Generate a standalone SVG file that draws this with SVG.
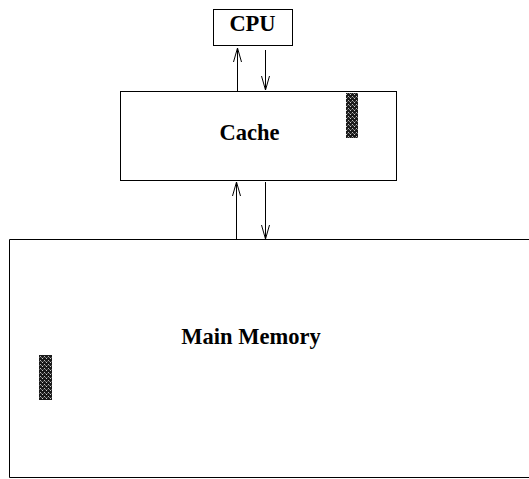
<svg xmlns="http://www.w3.org/2000/svg" width="529" height="479" viewBox="0 0 529 479">
<defs>
<style>
.box{fill:#fff;stroke:#000;stroke-width:1}
.lbl{font-family:"Liberation Serif","Times New Roman",serif;font-weight:bold;font-size:22.5px;text-anchor:middle;fill:#000}
.con{stroke:#000;stroke-width:1;fill:none}
.head{stroke:#000;stroke-width:1;fill:none}
</style>
<pattern id="chk" width="4" height="4" patternUnits="userSpaceOnUse">
<rect width="4" height="4" fill="#1a1a1a"/>
<rect x="0" y="0" width="1" height="1" fill="#bbb"/>
<rect x="1" y="1" width="1" height="1" fill="#777"/>
<rect x="2" y="2" width="1" height="1" fill="#ccc"/>
<rect x="3" y="1" width="1" height="1" fill="#555"/>
</pattern>
</defs>
<rect width="529" height="479" fill="#fff"/>
<g id="main-memory">
<path class="box" d="M540,239.5 H9.5 V477.5 H540"/>
<text class="lbl" x="251" y="344">Main Memory</text>
<rect x="39" y="355" width="13" height="45" fill="url(#chk)"/>
</g>
<g id="cache">
<rect class="box" x="120.5" y="91.5" width="276" height="89"/>
<text class="lbl" x="249.5" y="140">Cache</text>
<rect x="346" y="93" width="12" height="45" fill="url(#chk)"/>
</g>
<g id="cpu">
<rect class="box" x="213.5" y="9.5" width="79" height="36"/>
<text class="lbl" x="252.5" y="31">CPU</text>
</g>
<g id="connectors">
<line class="con" x1="237.5" y1="91" x2="237.5" y2="48"/>
<path class="head" d="M233.5,62 L237.5,48 L241.5,62"/>
<line class="con" x1="265.5" y1="50" x2="265.5" y2="90"/>
<path class="head" d="M261.5,76 L265.5,90 L269.5,76"/>
<line class="con" x1="236.5" y1="239" x2="236.5" y2="182"/>
<path class="head" d="M232.5,196 L236.5,182 L240.5,196"/>
<line class="con" x1="265.5" y1="182" x2="265.5" y2="239"/>
<path class="head" d="M261.5,225 L265.5,239 L269.5,225"/>
</g>
</svg>
